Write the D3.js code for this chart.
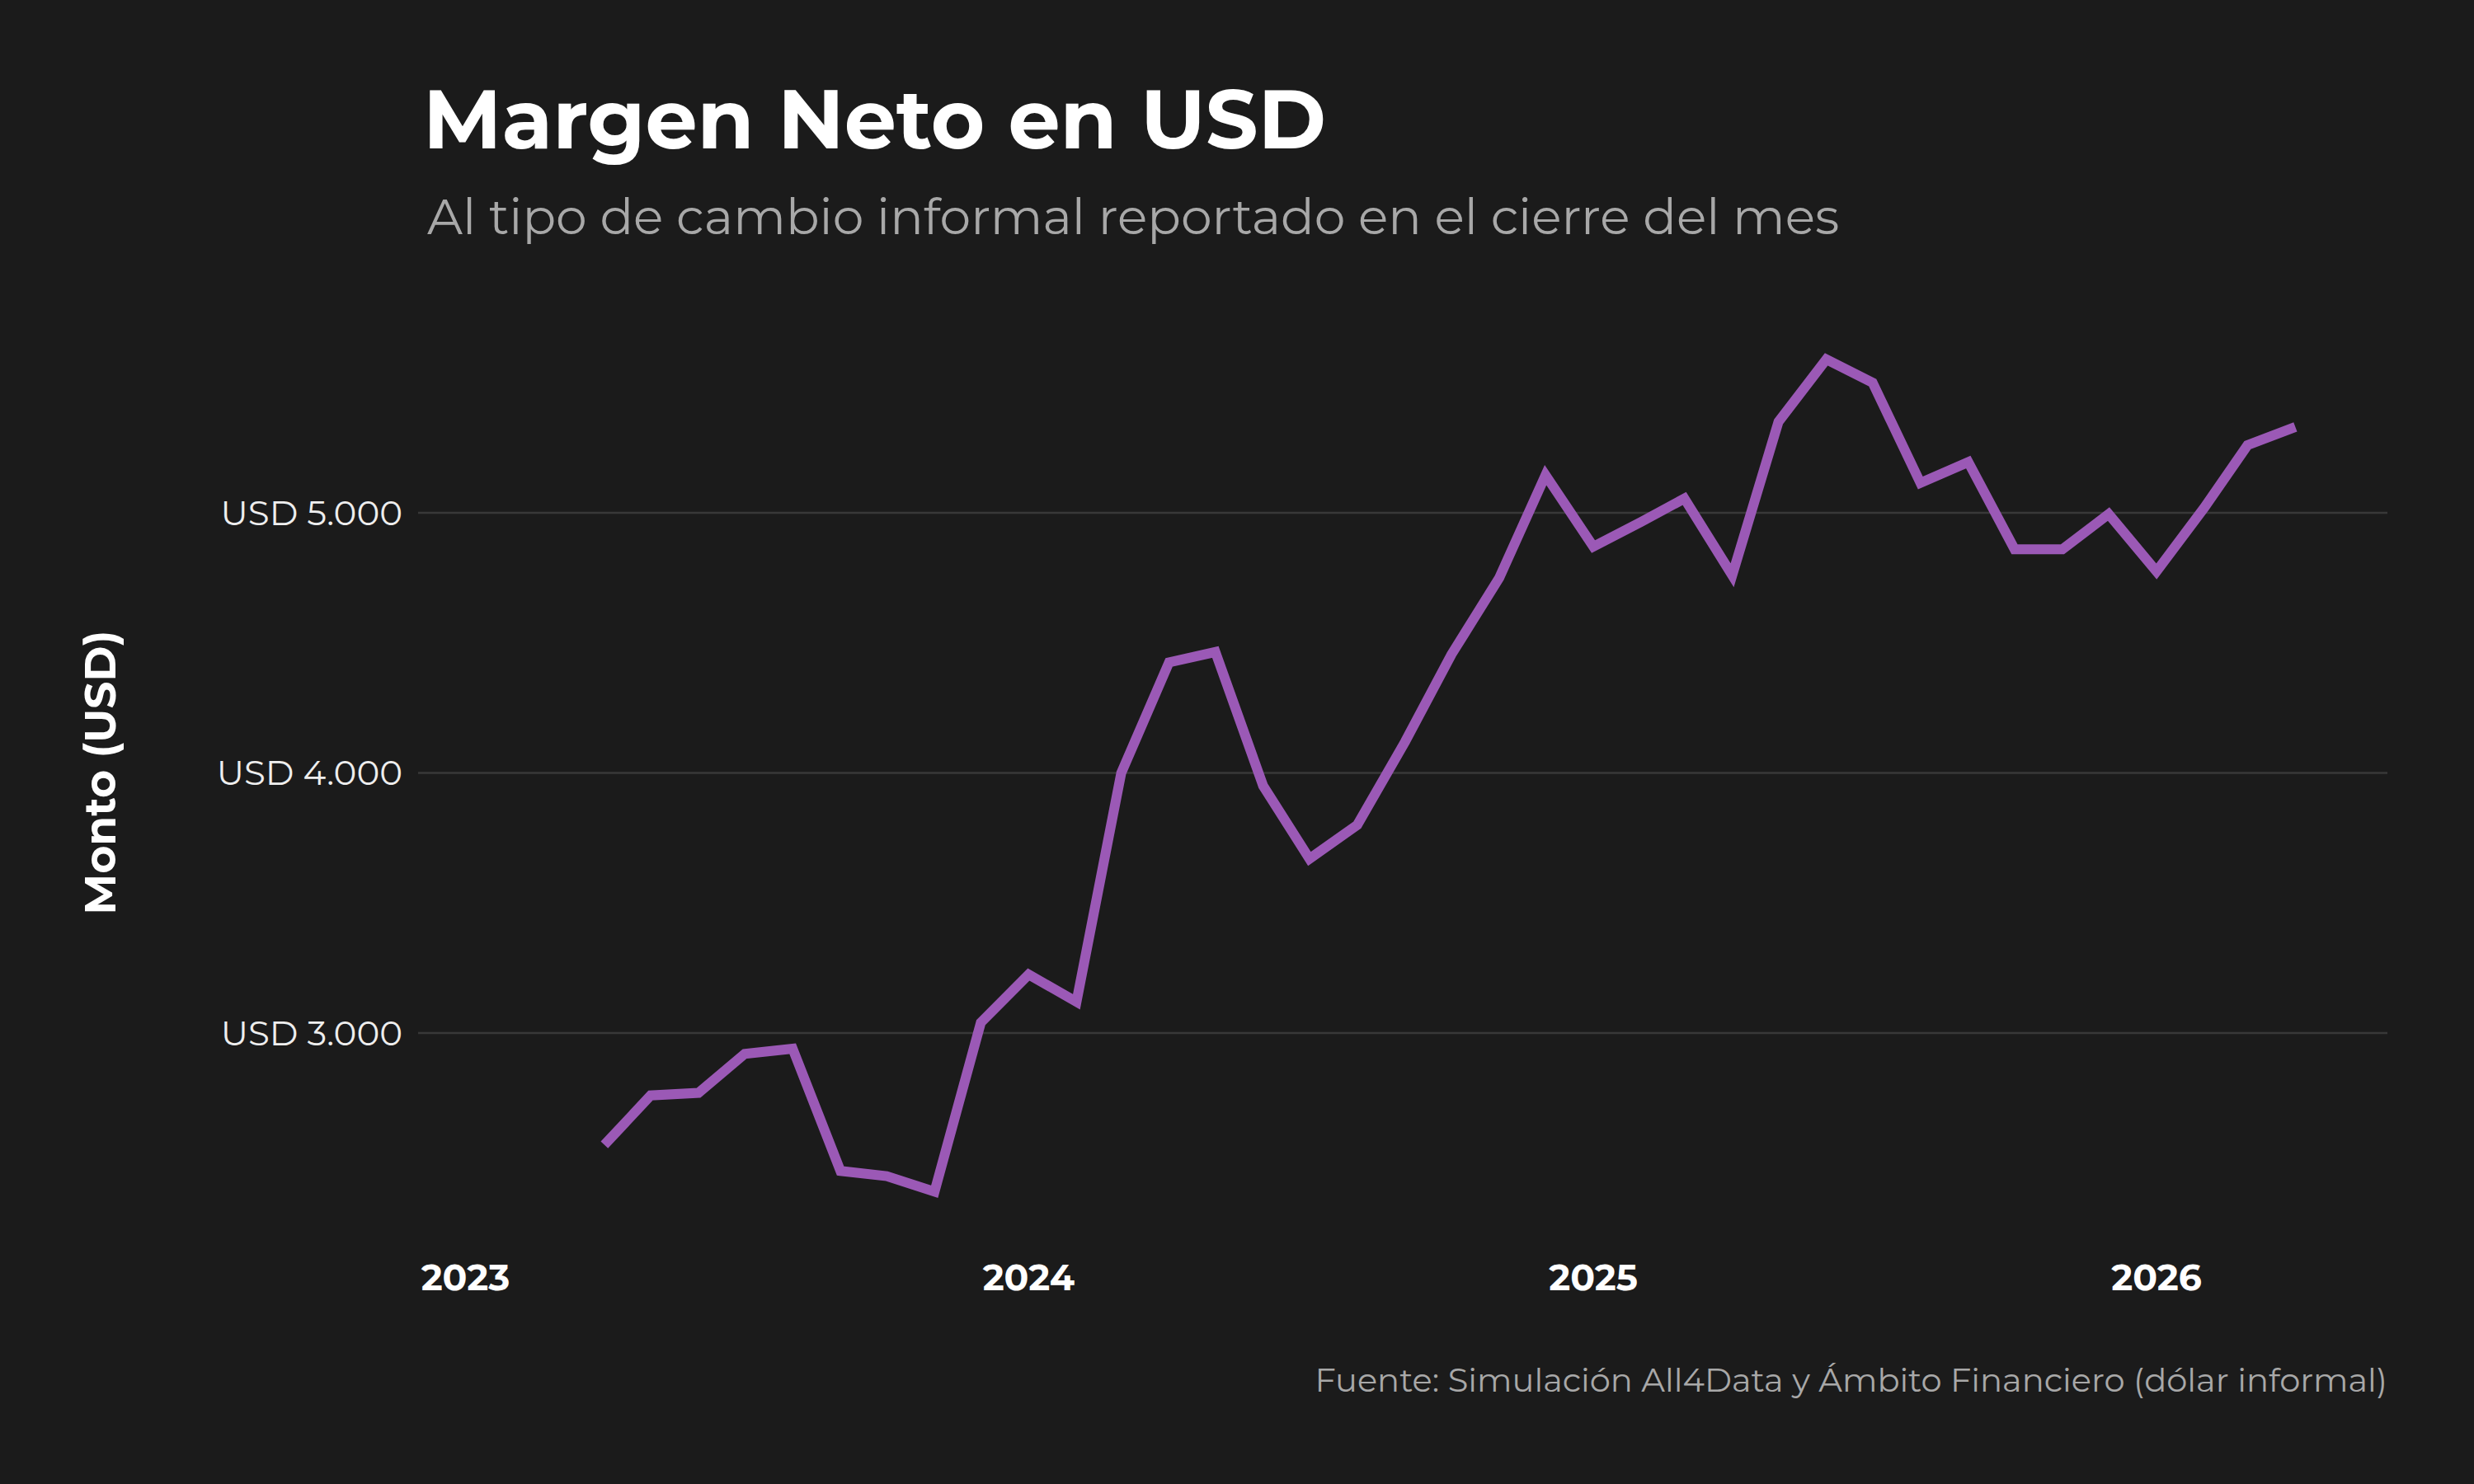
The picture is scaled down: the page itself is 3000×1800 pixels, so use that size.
<!DOCTYPE html>
<html><head><meta charset="utf-8">
<script src="https://cdn.jsdelivr.net/npm/d3@7"></script>
<style>html,body{margin:0;background:#1b1b1b;}</style>
</head><body><svg id="c" width="3000" height="1800"></svg>
<script>
const months = ["2023-04","2023-05","2023-06","2023-07","2023-08","2023-09","2023-10","2023-11","2023-12",
"2024-01","2024-02","2024-03","2024-04","2024-05","2024-06","2024-07","2024-08","2024-09","2024-10","2024-11","2024-12",
"2025-01","2025-02","2025-03","2025-04","2025-05","2025-06","2025-07","2025-08","2025-09","2025-10","2025-11","2025-12",
"2026-01","2026-02","2026-03","2026-04"];
const values = [2570,2760,2770,2920,2940,2470,2450,2390,3040,
3225,3120,4000,4425,4465,3950,3670,3800,4120,4455,4750,5145,
4870,4965,5055,4760,5350,5590,5500,5115,5195,4860,4860,4995,
4775,5020,5260,5330];
const yTicks = [3000,4000,5000];
const xTicks = ["2023","2024","2025","2026"];
const title = "Margen Neto en USD";
const subtitle = "Al tipo de cambio informal reportado en el cierre del mes";
const yLabel = "Monto (USD)";
const source = "Fuente: Simulación All4Data y Ámbito Financiero (dólar informal)";

const font = "Montserrat, 'Open Sans', sans-serif";
const svg = d3.select("#c");
svg.append("rect").attr("width",3000).attr("height",1800).attr("fill","#1b1b1b");
const parse = d3.timeParse("%Y-%m");
const x = d3.scaleTime().domain([new Date(2023,0,1), new Date(2026,0,1)]).range([564.5,2615]);
const y = d3.scaleLinear().domain([3000,5000]).range([1253,622]);
const L = 507, R = 2895;

svg.append("g").selectAll("line").data(yTicks).join("line")
  .attr("x1",L).attr("x2",R).attr("y1",d=>y(d)).attr("y2",d=>y(d))
  .attr("stroke","#383838").attr("stroke-width",2.5);
svg.append("g").selectAll("text").data(yTicks).join("text")
  .attr("x",488).attr("y",d=>y(d)).attr("dy","0.35em").attr("text-anchor","end")
  .attr("fill","#eeeeee").attr("font-family",font).attr("font-size",42)
  .text(d=>"USD "+d3.format(",")(d).replace(/,/g,"."));
svg.append("g").selectAll("text").data(xTicks).join("text")
  .attr("x",d=>x(new Date(+d,0,1))).attr("y",1565).attr("text-anchor","middle")
  .attr("fill","#ffffff").attr("font-family",font).attr("font-weight","bold").attr("font-size",44)
  .text(d=>d);

const line = d3.line().x((d,i)=>x(parse(months[i]))).y(d=>y(d));
svg.append("path").datum(values).attr("d",line).attr("fill","none")
  .attr("stroke","#9b59b6").attr("stroke-width",12).attr("stroke-linejoin","miter");

svg.append("text").attr("x",513).attr("y",180).attr("fill","#fff").attr("font-family",font)
  .attr("font-weight","bold").attr("font-size",100).text(title);
svg.append("text").attr("x",518).attr("y",284).attr("fill","#a8a8a8").attr("font-family",font)
  .attr("font-size",60).text(subtitle);
svg.append("text").attr("transform","translate(140,937) rotate(-90)").attr("text-anchor","middle")
  .attr("fill","#fff").attr("font-family",font).attr("font-weight","bold").attr("font-size",52).text(yLabel);
svg.append("text").attr("x",R).attr("y",1688).attr("text-anchor","end").attr("fill","#a8a8a8")
  .attr("font-family",font).attr("font-size",40).text(source);
</script></body></html>
